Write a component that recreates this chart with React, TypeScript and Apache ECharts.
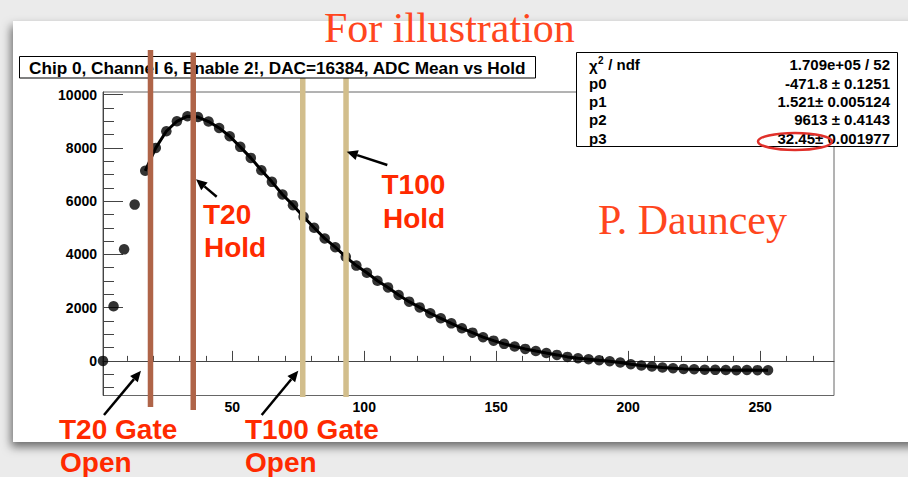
import React, { useEffect, useRef } from "react";
import * as echarts from "echarts";

// ---- data ----
const holdValues = [
  1, 5, 9, 13, 17, 21, 25, 29, 33, 37, 41, 45, 49, 53, 57, 61, 65, 69, 73, 77,
  81, 85, 89, 93, 97, 101, 105, 109, 113, 117, 121, 125, 129, 133, 137, 141,
  145, 149, 153, 157, 161, 165, 169, 173, 177, 181, 185, 189, 193, 197, 201,
  205, 209, 213, 217, 221, 225, 229, 233, 237, 241, 245, 249, 253,
];
const adcMean = [
  0, 2050, 4190, 5870, 7140, 8000, 8625, 9000, 9190, 9160, 8990, 8750, 8440,
  8040, 7625, 7160, 6725, 6250, 5850, 5410, 5000, 4600, 4270, 3910, 3580, 3310,
  3010, 2760, 2475, 2225, 2010, 1790, 1600, 1410, 1225, 1060, 890, 760, 640,
  540, 450, 370, 295, 225, 150, 100, 64, 25, -12, -62, -125, -175, -212, -250,
  -275, -300, -312, -330, -337, -345, -348, -340, -348, -350,
];
const fitStartIndex = 4; // fitted curve starts at hold = 17

const xMajorTicks = [50, 100, 150, 200, 250];
const xMinorTicks = [
  10, 20, 30, 40, 60, 70, 80, 90, 110, 120, 130, 140, 160, 170, 180, 190, 210,
  220, 230, 240, 260, 270,
];
const yMajorTicks = [0, 2000, 4000, 6000, 8000, 10000];
const yMinorTicks = [
  -1000, -500, 500, 1000, 1500, 2500, 3000, 3500, 4500, 5000, 5500, 6500, 7000,
  7500, 8500, 9000, 9500,
];

const titleText = "Chip 0, Channel 6, Enable 2!, DAC=16384, ADC Mean vs Hold";
const statsHeader = "1.709e+05 / 52";
const statsNames = ["p0", "p1", "p2", "p3"];
const statsValues = [
  "-471.8 \u00b1 0.1251",
  "1.521\u00b1 0.005124",
  "9613 \u00b1 0.4143",
  "32.45\u00b1 0.001977",
];

// annotation band positions (hold units)
const t20Bands = [18.9, 35.1];
const t100Bands = [76.6, 93];

const SANS = "'Liberation Sans', Arial, Helvetica, sans-serif";
const SERIF = "'Liberation Serif', 'Times New Roman', serif";
const RED = "#ff2a00";
const RED2 = "#ff461e";

function arrow(x1: number, y1: number, x2: number, y2: number, z: number) {
  const a = Math.atan2(y2 - y1, x2 - x1);
  const L = 11;
  const W = 5;
  const bx = x2 - L * Math.cos(a);
  const by = y2 - L * Math.sin(a);
  const px = -Math.sin(a);
  const py = Math.cos(a);
  return [
    {
      type: "line",
      z,
      shape: { x1, y1, x2: bx, y2: by },
      style: { stroke: "#000", lineWidth: 2.5 },
    },
    {
      type: "polygon",
      z,
      shape: {
        points: [
          [x2, y2],
          [bx + W * px, by + W * py],
          [bx - W * px, by - W * py],
        ],
      },
      style: { fill: "#000" },
    },
  ];
}

function label(text: string, x: number, y: number, z: number) {
  return {
    type: "text",
    z,
    x,
    y,
    style: {
      text,
      fill: RED,
      font: `bold 28px ${SANS}`,
      align: "left",
      verticalAlign: "middle",
    },
  };
}

export default function App() {
  const ref = useRef<HTMLDivElement>(null);

  useEffect(() => {
    if (!ref.current) return;
    const chart = echarts.init(ref.current, null, { renderer: "svg" });

    const points = holdValues.map((x, i) => [x, adcMean[i]]);
    const fitPoints = points.slice(fitStartIndex);

    const axisLabelStyle = {
      color: "#000",
      fontFamily: SANS,
      fontWeight: "bold" as const,
      fontSize: 14,
      formatter: (v: number) => String(v),
    };

    chart.setOption({
      animation: false,
      backgroundColor: "#ebebeb",
      grid: {
        left: 103,
        top: 92,
        width: 731,
        height: 303.5,
        show: true,
        borderColor: "#666",
        borderWidth: 1,
        backgroundColor: "transparent",
      },
      xAxis: [
        {
          type: "value",
          min: 1,
          max: 278,
          position: "bottom",
          axisLine: { show: true, lineStyle: { color: "#444", width: 1 } },
          splitLine: { show: false },
          axisTick: {
            show: true,
            inside: true,
            length: 10,
            customValues: xMajorTicks,
            lineStyle: { color: "#444" },
          },
          axisLabel: { ...axisLabelStyle, margin: 4, customValues: xMajorTicks },
        },
        {
          type: "value",
          min: 1,
          max: 278,
          position: "bottom",
          axisLine: { show: false },
          splitLine: { show: false },
          axisTick: {
            show: true,
            inside: true,
            length: 5,
            customValues: xMinorTicks,
            lineStyle: { color: "#444" },
          },
          axisLabel: { show: false },
        },
      ],
      yAxis: [
        {
          type: "value",
          min: -1300,
          max: 10100,
          position: "left",
          axisLine: { show: true, lineStyle: { color: "#444", width: 1 } },
          splitLine: { show: false },
          axisTick: {
            show: true,
            inside: true,
            length: 20,
            customValues: yMajorTicks,
            lineStyle: { color: "#444" },
          },
          axisLabel: { ...axisLabelStyle, margin: 6, customValues: yMajorTicks },
        },
        {
          type: "value",
          min: -1300,
          max: 10100,
          position: "left",
          axisLine: { show: false },
          splitLine: { show: false },
          axisTick: {
            show: true,
            inside: true,
            length: 11,
            customValues: yMinorTicks,
            lineStyle: { color: "#444" },
          },
          axisLabel: { show: false },
        },
      ],
      series: [
        {
          type: "line",
          xAxisIndex: 0,
          yAxisIndex: 0,
          data: fitPoints,
          showSymbol: false,
          lineStyle: { color: "#000", width: 3 },
          z: 2,
          silent: true,
        },
        {
          type: "scatter",
          xAxisIndex: 0,
          yAxisIndex: 0,
          data: points,
          symbol: "circle",
          symbolSize: 10.5,
          itemStyle: { color: "#000" },
          clip: false,
          z: 3,
          silent: true,
        },
      ],
    });

    const px = (v: number) =>
      chart.convertToPixel({ xAxisIndex: 0 }, v) as number;

    const elements: any[] = [];
    // white canvas panel with shadow
    elements.push({
      type: "rect",
      z: -100,
      shape: { x: 13, y: 21, width: 920, height: 421 },
      style: {
        fill: "#fff",
        shadowBlur: 10,
        shadowOffsetY: 5,
        shadowOffsetX: -2,
        shadowColor: "rgba(0,0,0,0.55)",
      },
    });

    // tan (T100) bands - under the title box
    t100Bands.forEach((v) => {
      elements.push({
        type: "rect",
        z: 5,
        shape: { x: px(v) - 2.5, y: 62, width: 5.5, height: 335 },
        style: { fill: "#d2be8c" },
      });
    });

    // title box
    elements.push({
      type: "rect",
      z: 10,
      shape: { x: 19.5, y: 56.5, width: 516, height: 21.5 },
      style: { fill: "#fff", stroke: "#000", lineWidth: 1 },
    });
    elements.push({
      type: "text",
      z: 11,
      x: 29,
      y: 67.5,
      style: {
        text: titleText,
        fill: "#000",
        font: `bold 17.2px ${SANS}`,
        align: "left",
        verticalAlign: "middle",
      },
    });

    // stats box
    elements.push({
      type: "rect",
      z: 10,
      shape: { x: 576.5, y: 52.5, width: 321, height: 94 },
      style: { fill: "#fff", stroke: "#000", lineWidth: 1 },
    });
    const rowY = [64.3, 83, 101.3, 119.5, 138.3];
    const statFont = `bold 15px ${SANS}`;
    elements.push({
      type: "text",
      z: 11,
      x: 589,
      y: rowY[0] + 1,
      style: { text: "\u03c7", fill: "#000", font: statFont, verticalAlign: "middle" },
    });
    elements.push({
      type: "text",
      z: 11,
      x: 598,
      y: rowY[0] - 4,
      style: { text: "2", fill: "#000", font: `bold 10px ${SANS}`, verticalAlign: "middle" },
    });
    elements.push({
      type: "text",
      z: 11,
      x: 604,
      y: rowY[0],
      style: { text: " / ndf", fill: "#000", font: statFont, verticalAlign: "middle" },
    });
    elements.push({
      type: "text",
      z: 11,
      x: 890,
      y: rowY[0],
      style: {
        text: statsHeader,
        fill: "#000",
        font: statFont,
        align: "right",
        verticalAlign: "middle",
      },
    });
    statsNames.forEach((n, i) => {
      elements.push({
        type: "text",
        z: 11,
        x: 589,
        y: rowY[i + 1],
        style: { text: n, fill: "#000", font: statFont, verticalAlign: "middle" },
      });
      elements.push({
        type: "text",
        z: 11,
        x: 890,
        y: rowY[i + 1],
        style: {
          text: statsValues[i],
          fill: "#000",
          font: statFont,
          align: "right",
          verticalAlign: "middle",
        },
      });
    });
    // red ellipse around p3 value
    elements.push({
      type: "ellipse",
      z: 30,
      shape: { cx: 795, cy: 141.5, rx: 37, ry: 8.5 },
      style: { fill: "none", stroke: "#e0302a", lineWidth: 2.5 },
    });

    // brown (T20) bands - on top of the title box
    elements.push({
      type: "rect",
      z: 20,
      shape: { x: px(t20Bands[0]) - 2.5, y: 50, width: 5.5, height: 357 },
      style: { fill: "#af6448" },
    });
    elements.push({
      type: "rect",
      z: 20,
      shape: { x: px(t20Bands[1]) - 2.5, y: 52.5, width: 5.5, height: 357.5 },
      style: { fill: "#af6448" },
    });

    // arrows
    elements.push(...arrow(216.7, 196.7, 196, 179.3, 30));
    elements.push(...arrow(387.3, 165, 346.7, 151.7, 30));
    elements.push(...arrow(104, 415, 141, 370.7, 30));
    elements.push(...arrow(261.7, 415, 298.3, 370.7, 30));

    // red labels
    elements.push(label("T20", 203, 214, 30));
    elements.push(label("Hold", 204, 247.3, 30));
    elements.push(label("T100", 381.5, 184.7, 30));
    elements.push(label("Hold", 383, 218.3, 30));
    elements.push(label("T20 Gate", 59, 429.3, 30));
    elements.push(label("Open", 60, 462.5, 30));
    elements.push(label("T100 Gate", 245, 429.3, 30));
    elements.push(label("Open", 245, 462.5, 30));

    elements.push({
      type: "text",
      z: 30,
      x: 324,
      y: 28.3,
      style: {
        text: "For illustration",
        fill: RED2,
        font: `42px ${SERIF}`,
        align: "left",
        verticalAlign: "middle",
      },
    });
    elements.push({
      type: "text",
      z: 30,
      x: 598,
      y: 220,
      style: {
        text: "P. Dauncey",
        fill: RED2,
        font: `42px ${SERIF}`,
        align: "left",
        verticalAlign: "middle",
      },
    });

    chart.setOption({ graphic: { elements } });

    return () => chart.dispose();
  }, []);

  return (
    <div
      ref={ref}
      style={{ position: "fixed", left: 0, top: 0, width: 908, height: 477 }}
    />
  );
}
